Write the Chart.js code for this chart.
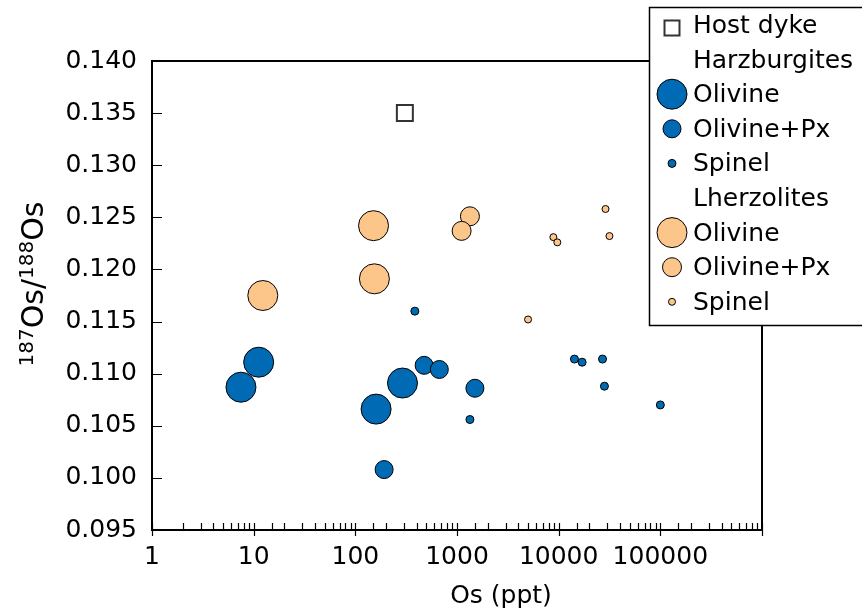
<!DOCTYPE html>
<html lang="en">
<head>
<meta charset="UTF-8">
<title>Os concentration vs 187Os/188Os</title>
<script src="https://cdn.jsdelivr.net/npm/chart.js"></script>
<style>
  html, body { margin: 0; padding: 0; background: #fff; }
</style>
</head>
<body>
<canvas id="osChart" width="862" height="614"></canvas>
<script>
// Values: Os (ppt) on x, 187Os/188Os on y
const hostDykeOs = [307];
const hostDykeRatio = [0.1350];

const harzOlivineOs = [7.5, 11.2, 160, 291];
const harzOlivineRatio = [0.1087, 0.1111, 0.1066, 0.1091];

const harzOlPxOs = [475, 670, 1500, 192];
const harzOlPxRatio = [0.1108, 0.1104, 0.1086, 0.1008];

const harzSpinelOs = [385, 1340, 14300, 17000, 27000, 28200, 100000];
const harzSpinelRatio = [0.1160, 0.1056, 0.1114, 0.1111, 0.1114, 0.1088, 0.1070];

const lherzOlivineOs = [12.3, 151, 154];
const lherzOlivineRatio = [0.1175, 0.1242, 0.1191];

const lherzOlPxOs = [1340, 1110];
const lherzOlPxRatio = [0.1251, 0.1237];

const lherzSpinelOs = [28900, 8870, 9700, 31600, 5000];
const lherzSpinelRatio = [0.1258, 0.1231, 0.1226, 0.1232, 0.1152];

// legend rows: text and the dataset whose marker goes in front (null = heading)
const legendRows = [
    ['Host dyke', 0],
    ['Harzburgites', null],
    ['Olivine', 1],
    ['Olivine+Px', 2],
    ['Spinel', 3],
    ['Lherzolites', null],
    ['Olivine', 4],
    ['Olivine+Px', 5],
    ['Spinel', 6]
];

const xTitle = 'Os (ppt)';
const yTitleParts = [['187', true], ['Os/', false], ['188', true], ['Os', false]];

const BLUE = '#006ab4';
const ORANGE = '#fcc68a';
const FONT = '"DejaVu Sans", sans-serif';

const pts = (xs, ys) => xs.map((x, i) => ({ x: x, y: ys[i] }));

function isPow10(v) {
    const e = Math.log10(v);
    return Math.abs(e - Math.round(e)) < 1e-9;
}

// box, inward ticks and axis titles
const framePlugin = {
    id: 'frame',
    beforeDatasetsDraw(chart) {
        const { ctx, chartArea: a, scales: { x, y } } = chart;
        ctx.save();
        ctx.strokeStyle = '#000';
        ctx.lineWidth = 2;
        ctx.strokeRect(a.left, a.top, a.right - a.left, a.bottom - a.top);

        ctx.lineWidth = 1.2;
        ctx.beginPath();
        y.ticks.forEach(t => {
            const py = Math.round(y.getPixelForValue(t.value)) + 0.5;
            ctx.moveTo(a.left, py);
            ctx.lineTo(a.left + 10, py);
        });
        x.ticks.forEach(t => {
            const px = Math.round(x.getPixelForValue(t.value)) + 0.5;
            const major = isPow10(t.value);
            ctx.moveTo(px, a.bottom - 7);
            ctx.lineTo(px, major ? a.bottom + 6 : a.bottom);
        });
        ctx.stroke();

        // x title
        ctx.fillStyle = '#000';
        ctx.font = '25px ' + FONT;
        ctx.textAlign = 'center';
        ctx.textBaseline = 'alphabetic';
        ctx.fillText(xTitle, 501, 603);

        // y title with superscripts
        ctx.translate(43, 284);
        ctx.rotate(-Math.PI / 2);
        ctx.textAlign = 'left';
        const mainFont = '30px ' + FONT;
        const supFont = '20px ' + FONT;
        let total = 0;
        yTitleParts.forEach(([s, sup]) => {
            ctx.font = sup ? supFont : mainFont;
            total += ctx.measureText(s).width;
        });
        let u = -total / 2;
        yTitleParts.forEach(([s, sup]) => {
            ctx.font = sup ? supFont : mainFont;
            ctx.fillText(s, u, sup ? -10 : 0);
            u += ctx.measureText(s).width;
        });
        ctx.restore();
    }
};

function drawMarker(ctx, ds, cx, cy) {
    ctx.fillStyle = ds.backgroundColor;
    ctx.strokeStyle = ds.borderColor;
    ctx.lineWidth = ds.borderWidth;
    ctx.beginPath();
    if (ds.pointStyle === 'rect') {
        const h = ds.pointRadius * Math.SQRT1_2;
        ctx.rect(cx - h, cy - h, 2 * h, 2 * h);
    } else {
        ctx.arc(cx, cy, ds.pointRadius, 0, Math.PI * 2);
    }
    ctx.fill();
    ctx.stroke();
}

const legendPlugin = {
    id: 'sideLegend',
    afterDraw(chart) {
        const ctx = chart.ctx;
        ctx.save();
        ctx.fillStyle = '#fff';
        ctx.fillRect(649, 7, 220, 319);
        ctx.strokeStyle = '#000';
        ctx.lineWidth = 1.5;
        ctx.strokeRect(649.5, 7.5, 220, 318);

        legendRows.forEach(([text, dsIndex], i) => {
            const cy = 25 + 34.6 * i;
            if (dsIndex !== null) {
                const ds = chart.data.datasets[dsIndex];
                const isRect = ds.pointStyle === 'rect';
                drawMarker(ctx, isRect ? Object.assign({}, ds, { pointRadius: 10.6 }) : ds,
                           672, isRect ? cy + 3 : cy);
            }
            ctx.fillStyle = '#000';
            ctx.font = '25px ' + FONT;
            ctx.textAlign = 'left';
            ctx.textBaseline = 'middle';
            ctx.fillText(text, 693, cy + 1.5);
        });
        ctx.restore();
    }
};

function series(label, xs, ys, color, radius, style) {
    return {
        label: label,
        data: pts(xs, ys),
        backgroundColor: color,
        borderColor: style === 'rect' ? '#333' : '#000',
        borderWidth: style === 'rect' ? 2 : 1,
        pointRadius: radius,
        pointHoverRadius: radius,
        pointStyle: style || 'circle'
    };
}

Chart.defaults.color = '#000';
Chart.defaults.font.family = FONT;

new Chart(document.getElementById('osChart'), {
    type: 'scatter',
    data: {
        datasets: [
            series('Host dyke', hostDykeOs, hostDykeRatio, '#fff', 11.3, 'rect'),
            series('Harzburgite olivine', harzOlivineOs, harzOlivineRatio, BLUE, 15),
            series('Harzburgite olivine+Px', harzOlPxOs, harzOlPxRatio, BLUE, 9),
            series('Harzburgite spinel', harzSpinelOs, harzSpinelRatio, BLUE, 4),
            series('Lherzolite olivine', lherzOlivineOs, lherzOlivineRatio, ORANGE, 15),
            series('Lherzolite olivine+Px', lherzOlPxOs, lherzOlPxRatio, ORANGE, 9.5),
            series('Lherzolite spinel', lherzSpinelOs, lherzSpinelRatio, ORANGE, 3.5)
        ]
    },
    options: {
        responsive: false,
        animation: false,
        layout: { padding: { top: 61, right: 100, left: 0, bottom: 0 } },
        plugins: {
            legend: { display: false },
            tooltip: { enabled: false }
        },
        scales: {
            x: {
                type: 'logarithmic',
                min: 1,
                max: 1000000,
                grid: { display: false, drawTicks: false },
                border: { display: false },
                afterFit: s => { s.height = 84; },
                ticks: {
                    autoSkip: false,
                    maxRotation: 0,
                    minRotation: 0,
                    padding: 12,
                    font: { size: 25 },
                    callback: v => (isPow10(v) && v <= 100000) ? String(Math.round(v)) : ''
                }
            },
            y: {
                type: 'linear',
                min: 0.095,
                max: 0.140,
                grid: { display: false, drawTicks: false },
                border: { display: false },
                afterFit: s => { s.width = 152; },
                ticks: {
                    stepSize: 0.005,
                    padding: 15,
                    font: { size: 25 },
                    callback: v => v.toFixed(3)
                }
            }
        }
    },
    plugins: [framePlugin, legendPlugin]
});
</script>
</body>
</html>
